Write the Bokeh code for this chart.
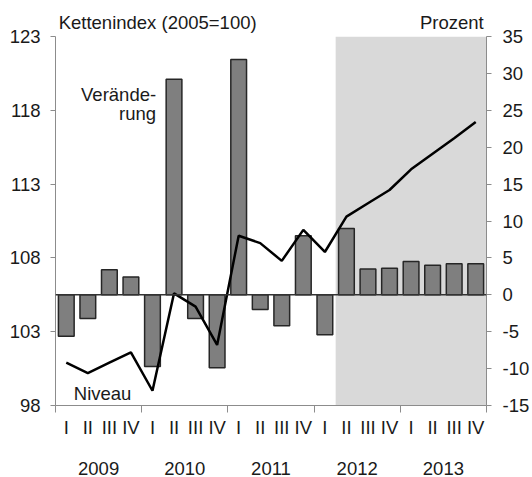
from bokeh.plotting import figure
from bokeh.models import (Range1d, LinearAxis, FixedTicker, Span, BoxAnnotation, Label,
                          ColumnDataSource)
from bokeh.embed import file_html
from bokeh.resources import INLINE

# ---- data ----
years = ["2009", "2010", "2011", "2012", "2013"]
quarters = ["I", "II", "III", "IV"]
pct_change = [-5.6, -3.2, 3.4, 2.4, -9.7, 29.2, -3.2, -9.9, 31.9, -2.0,
              -4.2, 8.0, -5.4, 9.0, 3.5, 3.6, 4.5, 4.0, 4.2, 4.2]
level = [100.9, 100.2, 100.9, 101.6, 99.0, 105.6, 104.7, 102.1, 109.5, 109.0,
         107.8, 109.9, 108.4, 110.8, 111.7, 112.6, 114.0, 115.05, 116.1, 117.2]
forecast_start = 13  # 2012 II
left_ticks = [98, 103, 108, 113, 118, 123]
right_ticks = [-15, -10, -5, 0, 5, 10, 15, 20, 25, 30, 35]
left_title = "Kettenindex (2005=100)"
right_title = "Prozent"

n = len(pct_change)
xc = [i + 0.5 for i in range(n)]
qlabels = [quarters[i % 4] for i in range(n)]

FONT = "Liberation Sans"
FS = "18.5px"
TXT = "#1a1a1a"
AX = "#8c8c8c"

p = figure(width=532, height=477, output_backend="svg", toolbar_location=None,
           x_range=Range1d(0, n), y_range=Range1d(98, 123),
           x_axis_type=None, y_axis_type=None,
           min_border_left=55, min_border_right=46, min_border_top=36, min_border_bottom=71)
p.extra_y_ranges = {"pct": Range1d(-15, 35)}
p.outline_line_color = None
p.xgrid.visible = False
p.ygrid.visible = False
p.background_fill_color = "white"

shade = BoxAnnotation(left=forecast_start, right=n, fill_color="#d9d9d9", fill_alpha=1.0,
                      line_color=None, level="underlay")
p.add_layout(shade)

src = ColumnDataSource(dict(x=xc, pct=pct_change, lvl=level))
p.vbar(x="x", top="pct", bottom=0, width=0.73, source=src, y_range_name="pct",
       fill_color="#7f7f7f", line_color="#262626", line_width=1.5)
p.add_layout(Span(location=0, dimension="width", y_range_name="pct",
                  line_color="#333333", line_width=1.5))
p.line(x="x", y="lvl", source=src, line_color="black", line_width=2.5)


def style(ax, standoff):
    ax.major_label_text_font = FONT
    ax.major_label_text_font_size = FS
    ax.major_label_text_color = TXT
    ax.axis_line_color = AX
    ax.major_tick_line_color = AX
    ax.minor_tick_line_color = None
    ax.major_tick_in = 0
    ax.major_tick_out = 5
    ax.major_label_standoff = standoff


yl = LinearAxis(ticker=FixedTicker(ticks=left_ticks))
style(yl, 10)
p.add_layout(yl, "left")

yr = LinearAxis(y_range_name="pct", ticker=FixedTicker(ticks=right_ticks),
                major_label_overrides={t: str(t) for t in right_ticks})
style(yr, 11)
p.add_layout(yr, "right")

xq = LinearAxis(ticker=FixedTicker(ticks=xc, minor_ticks=[4 * i for i in range(len(years) + 1)]),
                major_label_overrides={x: l for x, l in zip(xc, qlabels)})
style(xq, 4)
xq.major_tick_line_color = None
xq.major_tick_out = 0
xq.minor_tick_line_color = AX
xq.minor_tick_in = 0
xq.minor_tick_out = 7
p.add_layout(xq, "below")

ycent = [4 * i + 2 for i in range(len(years))]
xy = LinearAxis(ticker=FixedTicker(ticks=ycent),
                major_label_overrides={x: y for x, y in zip(ycent, years)})
style(xy, 21)
xy.axis_line_color = None
xy.major_tick_line_color = None
xy.major_tick_out = 0
p.add_layout(xy, "below")

# unit titles above the frame (one at the left, one at the right end)
tpos = [4.74, 18.39]
xt = LinearAxis(ticker=FixedTicker(ticks=tpos),
                major_label_overrides={tpos[0]: left_title, tpos[1]: right_title})
style(xt, 4)
xt.axis_line_color = None
xt.major_tick_line_color = None
xt.major_tick_out = 0
p.add_layout(xt, "above")

common = dict(text_font=FONT, text_font_size=FS, text_color=TXT)
p.add_layout(Label(x=4.67, y=119.07, text="Verände-", text_align="right",
                   text_baseline="alphabetic", **common))
p.add_layout(Label(x=4.67, y=117.78, text="rung", text_align="right",
                   text_baseline="alphabetic", **common))
p.add_layout(Label(x=0.85, y=98.83, text="Niveau", text_align="left",
                   text_baseline="alphabetic", **common))

open("out.html", "w").write(file_html(p, INLINE))
